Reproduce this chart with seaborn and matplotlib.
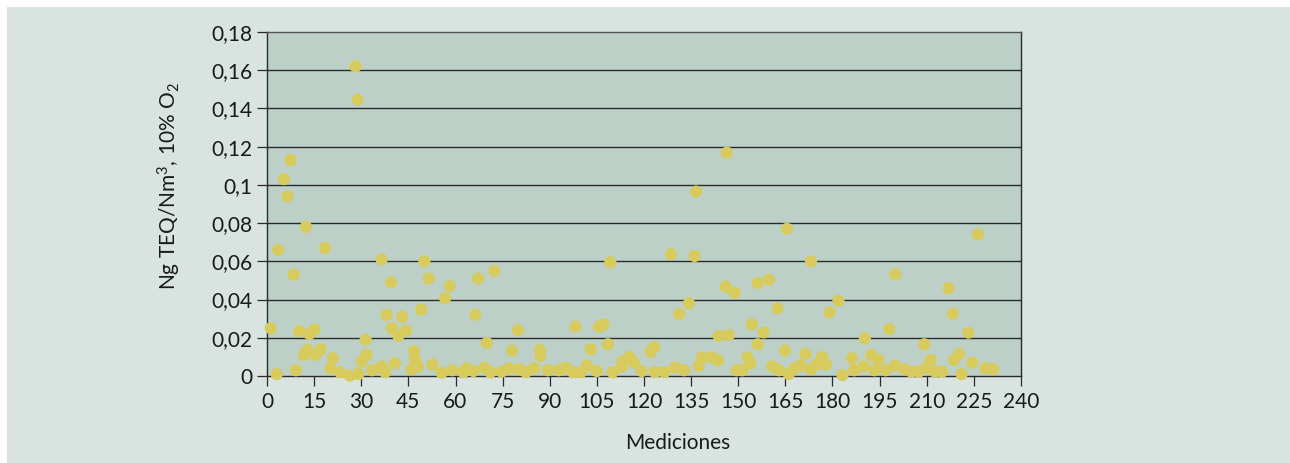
import matplotlib
matplotlib.use("Agg")
import matplotlib.pyplot as plt
import seaborn as sns
import pandas as pd
from matplotlib.patches import Rectangle
from matplotlib.ticker import FixedLocator, FixedFormatter

# ---- data ----
mediciones = [
    1.2, 3.1, 3.6, 5.4, 6.5, 7.5, 8.5, 9.2, 10.2, 11.7, 12.4, 12.8, 13.5, 15.2, 15.5, 17.1,
    18.5, 20.2, 21.0, 23.3, 26.4, 28.2, 28.9, 29.1, 30.1, 31.4, 31.7, 33.5, 36.5, 36.5, 37.6,
    38.1, 39.5, 39.7, 40.7, 41.8, 43.0, 44.2, 46.0, 46.8, 47.1, 48.0, 49.1, 50.1, 51.5, 52.7,
    55.6, 56.7, 58.2, 59.0,
    62.5, 63.5, 65.7, 66.3, 67.2, 69.2, 70.0, 71.1, 72.4, 74.7, 77.1, 78.0, 79.9, 80.2, 82.4,
    85.0, 86.9, 87.0, 89.4, 92.9, 95.1, 97.4, 98.2, 99.9, 101.8, 103.1, 105.0, 105.7, 107.2,
    108.5, 109.3, 110.0, 112.9, 113.2, 115.3, 116.9, 119.3,
    122.1, 123.2, 123.5, 126.5, 128.6, 129.9, 131.2, 132.8, 134.3, 136.1, 136.6, 137.5, 138.5,
    141.5, 143.6, 143.8, 146.0, 146.4, 147.0, 148.9, 149.5, 151.3, 153.0, 153.8, 154.3, 156.2,
    156.2, 158.1, 159.8, 160.8, 162.5, 163.0, 164.9, 165.5, 166.1, 167.8, 169.9, 171.4, 173.1,
    173.2, 174.9, 176.7, 177.9, 179.1,
    181.9, 183.2, 186.2, 186.9, 189.9, 190.3, 192.3, 193.4, 194.7, 196.9, 198.1, 199.9, 200.0,
    203.0, 205.1, 207.5, 209.2, 210.0, 211.3, 212.6, 214.9, 217.0, 218.3, 218.7, 220.3, 221.1,
    223.3, 224.5, 226.3, 228.7, 231.1,
]
ng_teq = [
    0.025, 0.001, 0.066, 0.103, 0.094, 0.113, 0.053, 0.003, 0.0235, 0.011, 0.078, 0.0136, 0.022,
    0.0244, 0.011, 0.014, 0.067, 0.004, 0.0093, 0.002, 0.0002, 0.162, 0.1446, 0.001, 0.0075,
    0.019, 0.011, 0.003, 0.061, 0.005, 0.002, 0.032, 0.049, 0.025, 0.0066, 0.021, 0.031, 0.0237,
    0.0035, 0.013, 0.0087, 0.005, 0.0347, 0.060, 0.051, 0.006, 0.0017, 0.0407, 0.047, 0.003,
    0.002, 0.004, 0.0026, 0.032, 0.051, 0.0044, 0.0173, 0.002, 0.055, 0.0023, 0.004, 0.0133,
    0.024, 0.0035, 0.002, 0.004, 0.0136, 0.0105, 0.003, 0.003, 0.0044, 0.002, 0.0258, 0.002,
    0.0054, 0.014, 0.0026, 0.0258, 0.027, 0.0166, 0.0595, 0.002, 0.005, 0.0075, 0.010, 0.007,
    0.0026,
    0.0127, 0.015, 0.002, 0.002, 0.0637, 0.0044, 0.0324, 0.003, 0.038, 0.0628, 0.0965, 0.0054,
    0.0098, 0.0098, 0.0082, 0.021, 0.0467, 0.1169, 0.0215, 0.0436, 0.003, 0.003, 0.0098, 0.0066,
    0.027, 0.0166, 0.0487, 0.0228, 0.0504, 0.005, 0.0354, 0.003, 0.0133, 0.077, 0.001, 0.004,
    0.0054, 0.0115, 0.0035, 0.060, 0.006, 0.010, 0.006, 0.0333,
    0.0394, 0.0005, 0.0093, 0.003, 0.005, 0.0197, 0.011, 0.003, 0.0085, 0.003, 0.0246, 0.0054,
    0.0532, 0.0035, 0.0023, 0.0023, 0.0166, 0.0044, 0.0084, 0.0023, 0.0023, 0.046, 0.0326,
    0.0084, 0.0115, 0.001, 0.0227, 0.007, 0.0741, 0.004, 0.0036,
]
x_ticks = list(range(0, 241, 15))
x_tick_labels = [str(v) for v in x_ticks]
y_ticks = [0, 0.02, 0.04, 0.06, 0.08, 0.1, 0.12, 0.14, 0.16, 0.18]
y_tick_labels = ["0", "0,02", "0,04", "0,06", "0,08", "0,1", "0,12", "0,14", "0,16", "0,18"]

df = pd.DataFrame({"Mediciones": mediciones, "valor": ng_teq})

sns.set_style("white")
plt.rcParams["font.family"] = ["Lato", "DejaVu Sans"]
plt.rcParams["mathtext.fontset"] = "custom"
plt.rcParams["mathtext.rm"] = "Lato"
plt.rcParams["mathtext.it"] = "Lato:italic"
plt.rcParams["mathtext.bf"] = "Lato:bold"

W, H = 1290, 463
fig = plt.figure(figsize=(W / 100, H / 100), dpi=100)
fig.patch.set_facecolor("white")
fig.patches.append(Rectangle((7 / W, 0), 1 - 7 / W, 1 - 7 / H, transform=fig.transFigure,
                             facecolor="#d9e4e0", edgecolor="none", zorder=-10))

ax_l, ax_r, ax_t, ax_b = 267, 1021, 32, 376
ax = fig.add_axes([ax_l / W, 1 - ax_b / H, (ax_r - ax_l) / W, (ax_b - ax_t) / H])
ax.set_facecolor("#bcd0c8")

sns.scatterplot(data=df, x="Mediciones", y="valor", ax=ax, color="#d8cb5e", s=78,
                linewidth=0, edgecolor="none", alpha=1, clip_on=False, zorder=3)

ax.set_xlim(0, 240)
ax.set_ylim(0, 0.18)
ax.xaxis.set_major_locator(FixedLocator(x_ticks))
ax.xaxis.set_major_formatter(FixedFormatter(x_tick_labels))
ax.yaxis.set_major_locator(FixedLocator(y_ticks))
ax.yaxis.set_major_formatter(FixedFormatter(y_tick_labels))

ax.grid(False)
for yv in y_ticks[1:-1]:
    ax.axhline(yv, color="#2a2a2a", lw=1.0, zorder=1)

for side in ["left", "right", "bottom"]:
    ax.spines[side].set_color("#2a2a2a")
    ax.spines[side].set_linewidth(1.0)
ax.spines["top"].set_color("#555555")
ax.spines["top"].set_linewidth(1.0)

ax.tick_params(axis="both", which="major", direction="out", length=7.5, width=0.9,
               color="#2a2a2a", labelsize=15, labelcolor="#1a1a1a")
ax.tick_params(axis="y", pad=3, left=True)
ax.tick_params(axis="x", pad=4, bottom=True)

ax.set_xlabel("Mediciones", fontsize=15, color="#1a1a1a")
ax.set_ylabel("Ng TEQ/Nm$^3$, 10% O$_2$", fontsize=15, color="#1a1a1a")
ax.xaxis.set_label_coords(0.545, -0.165)
ax.yaxis.set_label_coords(-0.111, 0.552)

fig.savefig("out.png", dpi=100, facecolor=fig.get_facecolor())
